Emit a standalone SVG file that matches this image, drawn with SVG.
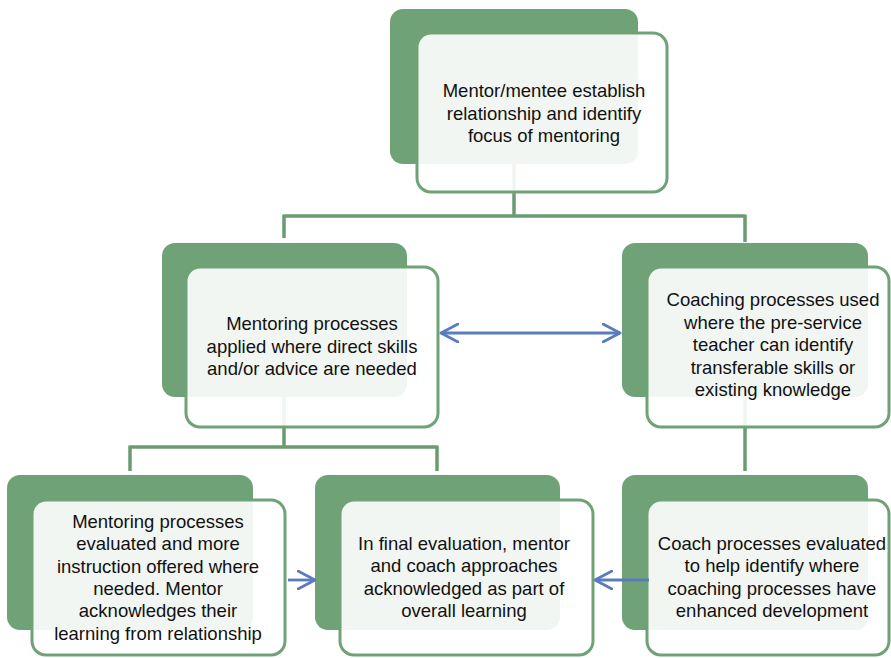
<svg xmlns="http://www.w3.org/2000/svg" width="891" height="658" viewBox="0 0 891 658">
<defs>
<style>
.back{fill:#6fa277;}
.front{fill:#ffffff;fill-opacity:0.9;stroke:#6fa277;stroke-width:3;}
.conn{fill:none;stroke:#6a9c72;stroke-width:3.5;}
.arr{fill:none;stroke:#5a7cbf;stroke-width:2.8;}
.t{font-family:"Liberation Sans",Arial,Helvetica,sans-serif;font-size:18.5px;fill:#111111;text-anchor:middle;}
</style>
<marker id="ah" viewBox="0 0 20 20" refX="18" refY="10" markerWidth="20" markerHeight="20" markerUnits="userSpaceOnUse" orient="auto-start-reverse">
<path d="M1,1 L18,10 L1,19" fill="none" stroke="#5a7cbf" stroke-width="2.8" stroke-linecap="round" stroke-linejoin="round"/>
</marker>
</defs>
<rect width="891" height="658" fill="#ffffff"/>
<g id="connectors">
<path class="conn" d="M514,164 V216 M284,216 H745 M284,214.5 V238 M745,214.5 V242"/>
<path class="conn" d="M284,397 V447 M130,447 H437 M130,445.5 V471 M437,445.5 V471"/>
<path class="conn" d="M745,397 V471"/>
</g>
<g id="n1">
<rect class="back" x="390" y="9" width="248" height="155" rx="13"/>
<rect class="front" x="417" y="33" width="250" height="159" rx="14"/>
<text class="t" font-size="19" x="544" y="97">Mentor/mentee establish</text>
<text class="t" x="544" y="119.5">relationship and identify</text>
<text class="t" x="544" y="142">focus of mentoring</text>
</g>
<g id="n2">
<rect class="back" x="162" y="243" width="245" height="154" rx="13"/>
<rect class="front" x="186" y="267" width="252" height="160" rx="14"/>
<text class="t" x="312" y="330">Mentoring processes</text>
<text class="t" x="312" y="352.5">applied where direct skills</text>
<text class="t" x="312" y="375">and/or advice are needed</text>
</g>
<g id="n3">
<rect class="back" x="622" y="243" width="246" height="154" rx="13"/>
<rect class="front" x="647" y="267" width="242" height="160" rx="14"/>
<text class="t" x="773" y="306">Coaching processes used</text>
<text class="t" x="773" y="328.5">where the pre-service</text>
<text class="t" x="773" y="351">teacher can identify</text>
<text class="t" x="773" y="373.5">transferable skills or</text>
<text class="t" x="773" y="396">existing knowledge</text>
</g>
<g id="n4">
<rect class="back" x="7" y="475" width="246" height="155" rx="13"/>
<rect class="front" x="32" y="500" width="253" height="155" rx="14"/>
<text class="t" x="158" y="528">Mentoring processes</text>
<text class="t" x="158" y="550.3">evaluated and more</text>
<text class="t" x="158" y="572.6">instruction offered where</text>
<text class="t" x="158" y="594.9">needed. Mentor</text>
<text class="t" x="158" y="617.2">acknowledges their</text>
<text class="t" x="158" y="639.5">learning from relationship</text>
</g>
<g id="n5">
<rect class="back" x="315" y="475" width="245" height="155" rx="13"/>
<rect class="front" x="340" y="500" width="253" height="155" rx="14"/>
<text class="t" x="464" y="550">In final evaluation, mentor</text>
<text class="t" x="464" y="572.3">and coach approaches</text>
<text class="t" x="464" y="594.6">acknowledged as part of</text>
<text class="t" x="464" y="616.9">overall learning</text>
</g>
<g id="n6">
<rect class="back" x="622" y="475" width="246" height="155" rx="13"/>
<rect class="front" x="647" y="500" width="242" height="155" rx="14"/>
<text class="t" x="772" y="550">Coach processes evaluated</text>
<text class="t" x="772" y="572.3">to help identify where</text>
<text class="t" x="772" y="594.6">coaching processes have</text>
<text class="t" x="772" y="616.9">enhanced development</text>
</g>
<g id="arrows">
<line class="arr" x1="441" y1="333" x2="620" y2="333" marker-start="url(#ah)" marker-end="url(#ah)"/>
<line class="arr" x1="288" y1="580" x2="315" y2="580" marker-end="url(#ah)"/>
<line class="arr" x1="649" y1="580" x2="595" y2="580" marker-end="url(#ah)"/>
</g>
</svg>
